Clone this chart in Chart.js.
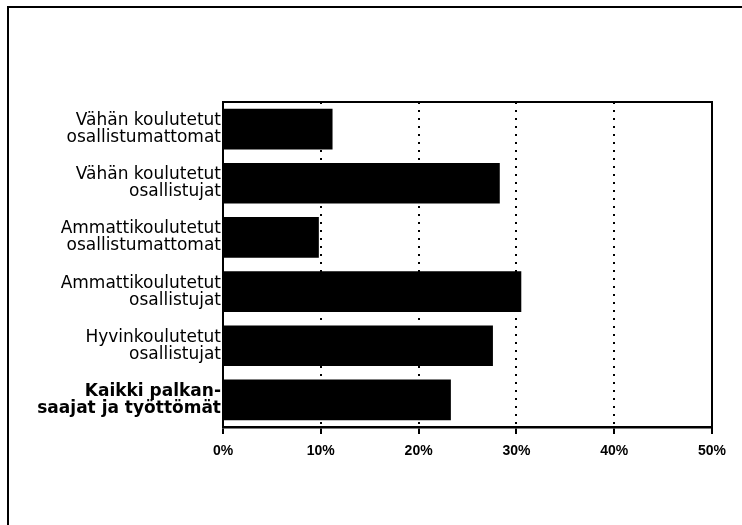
<!DOCTYPE html>
<html>
<head>
<meta charset="utf-8">
<style>
  html, body { margin: 0; padding: 0; background: #fff; }
  #wrap { width: 742px; height: 525px; }
</style>
</head>
<body>
<div id="wrap"><canvas id="barChart" width="742" height="525"></canvas></div>
<script src="https://cdn.jsdelivr.net/npm/chart.js"></script>
<script>
    // categories (top to bottom) and their shares in percent
    const categories = [
        ['Vähän koulutetut', 'osallistumattomat'],
        ['Vähän koulutetut', 'osallistujat'],
        ['Ammattikoulutetut', 'osallistumattomat'],
        ['Ammattikoulutetut', 'osallistujat'],
        ['Hyvinkoulutetut', 'osallistujat'],
        ['Kaikki palkan-', 'saajat ja työttömät']
    ];
    const shares = [11.2, 28.3, 9.8, 30.5, 27.6, 23.3];
    const tickValues = [0, 10, 20, 30, 40, 50];

    // outer frame and the top/right edges of the plot box
    const framePlugin = {
        id: 'frame',
        beforeDraw(chart) {
            const c = chart.ctx;
            c.save();
            c.fillStyle = '#fff';
            c.fillRect(0, 0, chart.width, chart.height);
            c.strokeStyle = '#000';
            c.lineWidth = 2;
            c.strokeRect(8, 7, chart.width + 20, chart.height + 20);
            c.restore();
        },
        afterDraw(chart) {
            const a = chart.chartArea;
            const c = chart.ctx;
            c.save();
            c.strokeStyle = '#000';
            c.lineWidth = 2;
            c.beginPath();
            c.moveTo(a.left, a.top);
            c.lineTo(a.right, a.top);
            c.lineTo(a.right, a.bottom + 7);
            c.stroke();
            c.restore();
        }
    };

    const ctx = document.getElementById('barChart');
    const barChart = new Chart(ctx, {
        type: 'bar',
        data: {
            labels: categories,
            datasets: [{
                data: shares,
                backgroundColor: '#000',
                borderWidth: 0,
                barPercentage: 0.75,
                categoryPercentage: 1
            }]
        },
        options: {
            indexAxis: 'y',
            responsive: false,
            animation: false,
            layout: { padding: { left: 0, right: 30, top: 102, bottom: 58 } },
            plugins: {
                legend: { display: false },
                tooltip: { enabled: false }
            },
            scales: {
                x: {
                    min: 0,
                    max: 50,
                    afterBuildTicks(scale) {
                        scale.ticks = tickValues.map(v => ({ value: v }));
                    },
                    afterFit(scale) { scale.height = 40; },
                    ticks: {
                        callback: v => v + '%',
                        color: '#000',
                        padding: 9,
                        maxRotation: 0,
                        font: { family: 'Liberation Sans', size: 14, weight: 'bold' }
                    },
                    grid: {
                        color: c => (c.tick && (c.tick.value === 0 || c.tick.value === 50)) ? 'rgba(0,0,0,0)' : '#000',
                        lineWidth: 2,
                        drawTicks: true,
                        tickLength: 7,
                        tickColor: '#000',
                        tickWidth: 2,
                        tickBorderDash: []
                    },
                    border: { display: true, color: '#000', width: 2.5, dash: [2, 6] }
                },
                y: {
                    afterFit(scale) { scale.width = 223; },
                    grid: { display: false, drawTicks: false },
                    border: { display: true, color: '#000', width: 2 },
                    ticks: {
                        color: '#000',
                        padding: 2,
                        font: c => ({
                            family: 'DejaVu Sans',
                            size: 17,
                            weight: c.index === 5 ? 'bold' : 'normal',
                            lineHeight: 1.0
                        })
                    }
                }
            }
        },
        plugins: [framePlugin]
    });
</script>
</body>
</html>
